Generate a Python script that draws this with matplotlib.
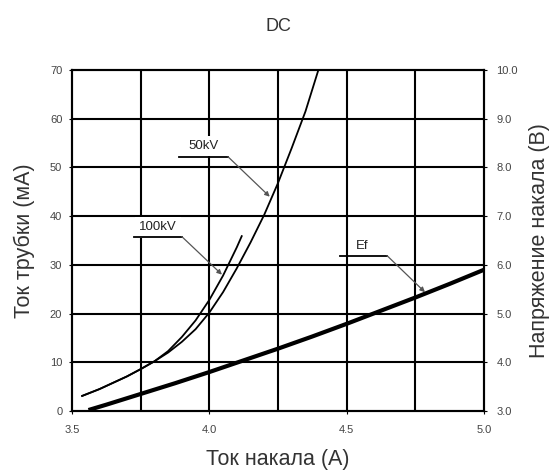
import matplotlib
matplotlib.use("Agg")
import matplotlib.pyplot as plt

plt.rcParams['font.family'] = ['Liberation Sans', 'DejaVu Sans']

# filament current (A) vs tube current (mA)
x_50kv = [3.537, 3.60, 3.65, 3.70, 3.75, 3.80, 3.85, 3.90, 3.95, 4.00,
          4.05, 4.10, 4.15, 4.20, 4.25, 4.30, 4.35, 4.397]
y_50kv = [3.1, 4.5, 5.8, 7.1, 8.6, 10.2, 12.0, 14.2, 16.8, 20.2,
          24.4, 29.3, 34.6, 40.3, 46.8, 54.0, 61.5, 70.0]

x_100kv = [3.537, 3.60, 3.65, 3.70, 3.75, 3.80, 3.85, 3.90, 3.95, 4.00,
           4.05, 4.10, 4.118]
y_100kv = [3.1, 4.5, 5.8, 7.1, 8.6, 10.2, 12.3, 15.2, 18.6, 22.8,
           27.8, 33.6, 35.9]

# filament current (A) vs filament voltage (V)
x_ef = [3.56, 3.625, 3.75, 3.875, 4.0, 4.125, 4.25, 4.375, 4.5, 4.625, 4.75, 4.875, 5.0]
y_ef = [3.02, 3.13, 3.35, 3.57, 3.80, 4.04, 4.28, 4.53, 4.79, 5.06, 5.33, 5.61, 5.90]

xticks = [3.5, 4.0, 4.5, 5.0]
xtick_labels = ["3.5", "4.0", "4.5", "5.0"]
yticks = [0, 10, 20, 30, 40, 50, 60, 70]
rticks = [3.0, 4.0, 5.0, 6.0, 7.0, 8.0, 9.0, 10.0]
xgrid = [3.75, 4.0, 4.25, 4.5, 4.75]

# curve labels: text, text x, text y, leader start x, leader bend x, leader y, arrow tip
curve_labels = [("50kV", 3.979, 54.4, 3.89, 4.068, 52.2, 4.22, 44.0),
                ("100kV", 3.813, 37.7, 3.726, 3.90, 35.8, 4.046, 28.0),
                ("Ef", 4.555, 33.9, 4.476, 4.647, 31.9, 4.785, 24.4)]

fig = plt.figure(figsize=(5.52, 4.70), dpi=100)
ax = fig.add_axes([0.1304, 0.1255, 0.7464, 0.7255])
ax2 = ax.twinx()

for v in xgrid:
    ax.axvline(v, color='black', lw=1.5, zorder=1)
for h in yticks[1:-1]:
    ax.axhline(h, color='black', lw=1.5, zorder=1)

ax.plot(x_50kv, y_50kv, color='black', lw=1.3, zorder=3)
ax.plot(x_100kv, y_100kv, color='black', lw=1.3, zorder=3)
ax2.plot(x_ef, y_ef, color='black', lw=3.0, zorder=3, solid_capstyle='butt')

for txt, tx, ty, x0, x1, yl, xa, ya in curve_labels:
    ax.text(tx, ty, txt, ha='center', va='center', fontsize=9.5,
            color='#222', zorder=5,
            bbox=dict(facecolor='white', edgecolor='none', pad=3))
    ax.plot([x0, x1], [yl, yl], color='black', lw=1.3, zorder=6)
    ax.annotate("", xy=(xa, ya), xytext=(x1, yl),
                arrowprops=dict(arrowstyle='-|>', color='#555', lw=0.9,
                                mutation_scale=7, shrinkA=0, shrinkB=0),
                zorder=6)

ax.set_xlim(3.5, 5.0)
ax.set_ylim(0, 70)
ax2.set_ylim(3.0, 10.0)

ax.set_xticks(xticks)
ax.set_xticklabels(xtick_labels)
ax.set_yticks(yticks)
ax2.set_yticks(rticks)
ax2.set_yticklabels([f"{t:.1f}" for t in rticks])

ax.tick_params(axis='x', length=2, width=0.8, labelsize=8,
               labelcolor='#444', pad=8)
ax.tick_params(axis='y', length=2, width=0.8, labelsize=8,
               labelcolor='#444', pad=5)
ax2.tick_params(axis='y', length=2, width=0.8, labelsize=8,
                labelcolor='#444', pad=7)

for a in (ax, ax2):
    for s in a.spines.values():
        s.set_linewidth(1.5)

ax.set_xlabel("Ток накала (А)", fontsize=15.5, color='#333', labelpad=10)
ax.set_ylabel("Ток трубки (мА)", fontsize=15.5, color='#333', labelpad=11)
ax2.set_ylabel("Напряжение накала (В)", fontsize=15.5, color='#333', labelpad=8)
ax.set_title("DC", fontsize=13, color='#333', pad=28)

fig.savefig("out.png", dpi=100)
